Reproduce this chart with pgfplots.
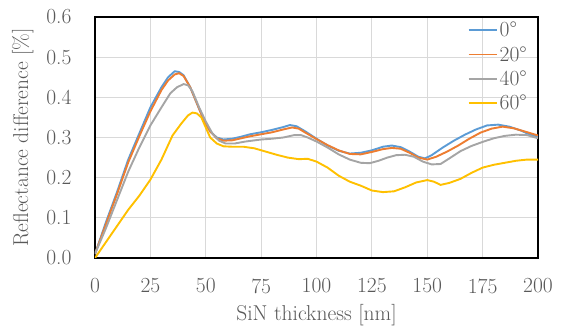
\documentclass[border=0pt]{standalone}
\usepackage{fontspec}
\usepackage{pgfplots}
\pgfplotsset{compat=1.18}
\definecolor{cblue}{HTML}{5B9BD5}
\definecolor{corange}{HTML}{ED7D31}
\definecolor{cgray}{HTML}{A5A5A5}
\definecolor{cyellow}{HTML}{FFC000}
\definecolor{txtgray}{HTML}{595959}
\definecolor{gridgray}{HTML}{D9D9D9}
\begin{document}
\begin{tikzpicture}
\begin{axis}[
  scale only axis, width=443pt, height=241pt,
  xmin=0, xmax=200, ymin=0, ymax=0.6,
  xtick={0,25,50,75,100,125,150,175,200},
  ytick={0,0.1,0.2,0.3,0.4,0.5,0.6},
  grid=major,
  major grid style={draw=gridgray, line width=0.9pt},
  axis line style={black, line width=1.2pt},
  major tick length=0pt,
  /pgf/number format/assume math mode=true,
  font=\fontsize{21.5}{25}\selectfont,
  ticklabel style={text=txtgray, font=\fontsize{21.5}{25}\selectfont},
  yticklabel style={/pgf/number format/.cd, fixed, fixed zerofill, precision=1, /tikz/.cd, xshift=-20pt},
  xticklabel style={yshift=-17pt},
  every axis y label/.style={at={(axis description cs:-0.163,0.5)}, rotate=90, anchor=center, text=txtgray},
  every axis x label/.style={at={(axis description cs:0.5,-0.237)}, anchor=center, text=txtgray},
  xlabel={SiN thickness [nm]},
  ylabel={Reflectance difference [\%]},
  legend style={draw=none, fill=none, at={(1,1)}, anchor=north east, xshift=-9pt, yshift=-3pt,
    inner sep=0pt, row sep=4pt, font=\fontsize{21.5}{25}\selectfont, text=txtgray,
    nodes={inner sep=2pt}},
  legend cell align=left,
  legend image code/.code={\draw[#1] (0pt,0pt) -- (28pt,0pt);},
  every axis plot/.append style={line width=1.9pt, line join=round},
]
\addplot[cblue] coordinates {
(0,0.010) (5,0.090) (10,0.165) (15,0.245) (20,0.310) (25,0.375) (30,0.425) (33,0.450) (36,0.465) (38,0.463) (40,0.455) (43,0.425) (46,0.385) (49,0.345) (52,0.315) (55,0.300) (58,0.295) (62,0.297) (66,0.302) (70,0.308) (75,0.313) (80,0.319) (85,0.326) (88,0.331) (91,0.328) (95,0.315) (100,0.297) (105,0.280) (110,0.267) (115,0.260) (120,0.262) (125,0.268) (130,0.277) (134,0.280) (138,0.276) (142,0.265) (146,0.252) (149,0.248) (152,0.256) (157,0.275) (162,0.292) (167,0.307) (172,0.320) (177,0.330) (182,0.332) (187,0.327) (192,0.318) (196,0.308) (200,0.302)
};
\addlegendentry{0°}
\addplot[corange] coordinates {
(0,0.010) (5,0.085) (10,0.160) (15,0.238) (20,0.303) (25,0.365) (30,0.418) (33,0.442) (36,0.457) (38,0.460) (40,0.453) (43,0.425) (46,0.385) (49,0.345) (52,0.315) (55,0.298) (58,0.292) (62,0.293) (66,0.298) (70,0.303) (75,0.308) (80,0.313) (85,0.320) (89,0.325) (92,0.322) (95,0.312) (100,0.296) (105,0.281) (110,0.268) (115,0.259) (120,0.258) (125,0.264) (130,0.271) (134,0.274) (138,0.272) (142,0.262) (146,0.250) (150,0.245) (154,0.252) (159,0.265) (164,0.280) (169,0.297) (174,0.312) (179,0.322) (184,0.327) (189,0.323) (194,0.315) (200,0.305)
};
\addlegendentry{20°}
\addplot[cgray] coordinates {
(0,0.010) (5,0.075) (10,0.145) (15,0.215) (20,0.275) (25,0.330) (30,0.375) (34,0.410) (37,0.425) (40,0.433) (42,0.430) (44,0.415) (47,0.375) (50,0.340) (53,0.310) (56,0.292) (59,0.285) (63,0.285) (68,0.290) (75,0.295) (80,0.297) (85,0.300) (90,0.306) (93,0.306) (96,0.300) (100,0.290) (105,0.275) (110,0.258) (115,0.245) (120,0.237) (124,0.236) (128,0.242) (132,0.250) (136,0.256) (140,0.257) (144,0.252) (148,0.240) (152,0.233) (156,0.234) (160,0.248) (165,0.266) (170,0.279) (175,0.289) (180,0.298) (185,0.304) (190,0.307) (195,0.306) (200,0.298)
};
\addlegendentry{40°}
\addplot[cyellow] coordinates {
(0,0.000) (5,0.040) (10,0.080) (15,0.120) (20,0.155) (25,0.195) (30,0.245) (35,0.305) (39,0.335) (42,0.355) (44,0.362) (46,0.360) (48,0.350) (50,0.325) (52,0.300) (55,0.285) (58,0.278) (62,0.277) (67,0.277) (72,0.273) (77,0.265) (82,0.257) (87,0.250) (92,0.246) (96,0.247) (100,0.240) (105,0.225) (110,0.205) (115,0.190) (120,0.180) (125,0.168) (130,0.164) (135,0.166) (140,0.176) (145,0.188) (150,0.194) (153,0.190) (156,0.182) (160,0.187) (165,0.197) (170,0.212) (175,0.225) (180,0.232) (185,0.237) (190,0.242) (195,0.245) (200,0.245)
};
\addlegendentry{60°}
\end{axis}
\pgfresetboundingbox
\path ([xshift=-95pt,yshift=-74pt]current axis.south west) rectangle ([xshift=28pt,yshift=17pt]current axis.north east);
\end{tikzpicture}
\end{document}
